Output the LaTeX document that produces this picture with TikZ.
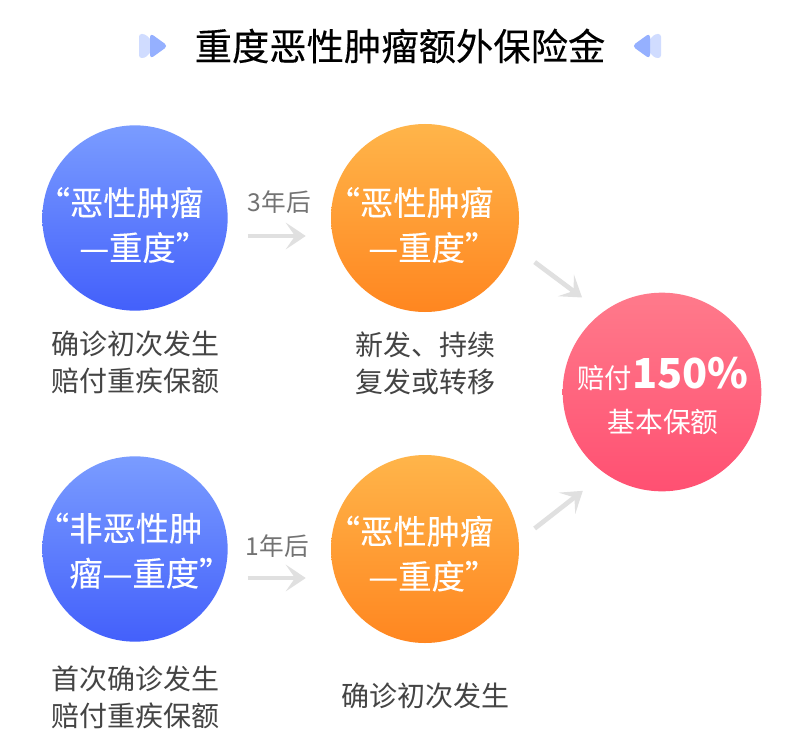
\documentclass[tikz,border=0pt]{standalone}
\usepackage{fontspec}
\setmainfont{Noto Sans CJK SC}
\usetikzlibrary{positioning,arrows.meta,shapes.geometric}
\definecolor{blueTop}{HTML}{7A9CFF}
\definecolor{blueBot}{HTML}{4360FB}
\definecolor{orangeTop}{HTML}{FFB54A}
\definecolor{orangeBot}{HTML}{FF8620}
\definecolor{pinkTop}{HTML}{FF7A8B}
\definecolor{pinkBot}{HTML}{FF5072}
\definecolor{flowGray}{HTML}{E0E0E0}
\definecolor{capGray}{HTML}{444444}
\tikzstyle{ball}=[circle,inner sep=0pt]
\tikzstyle{balltext}=[inner sep=0pt,text=white,align=center,font=\fontsize{25}{33.75}\selectfont\addfontfeature{FakeBold=.15}]
\tikzstyle{blueball}=[ball,minimum size=139pt,top color=blueTop,bottom color=blueBot]
\tikzstyle{orangeball}=[ball,minimum size=141pt,top color=orangeTop,bottom color=orangeBot]
\tikzstyle{pinkball}=[ball,minimum size=149pt,top color=pinkTop,bottom color=pinkBot]
\tikzstyle{caption}=[align=center,text=capGray,inner sep=0pt,font=\fontsize{21}{27.75}\selectfont]
\tikzstyle{flow}=[line width=3.5pt,flowGray,-{Stealth[length=15pt,width=20pt,inset=7pt]}]
\tikzstyle{yearlabel}=[text=black!55,inner sep=0pt,font=\fontsize{18.5}{22}\selectfont]
\tikzstyle{markback}=[fill=blueTop!35,rounded corners=2pt]
\tikzstyle{markfront}=[fill=blueTop!80,rounded corners=3pt]
\newcommand{\lqm}{\hspace*{-.65em}“}
\newcommand{\rqm}{”\hspace*{-.65em}}
\newcommand{\newBall}[5]{\node[#2](#1) at (#3) {}; \node[balltext,yshift=#5](#1text) at (#1) {#4};}
\newcommand{\newFlow}[5]{\draw[flow,shorten <=#3,shorten >=#4] (#1) -- (#2) #5;}
\begin{document}
\begin{tikzpicture}[x=.75pt,y=-.75pt,>=latex]
      \useasboundingbox[fill=white] (0,0) rectangle (798,745);
      \node[inner sep=0pt,font=\fontsize{28}{32}\selectfont\addfontfeature{FakeBold=.25}] (title) at (400,46) {重度恶性肿瘤额外保险金};
      % title marks
      \begin{scope}[shift={(139,46)}]
        \path[markback] (0,-12) -- (6,-12) -- (18,0) -- (6,12) -- (0,12) -- cycle;
        \path[markfront] (11,-13) -- (29,0) -- (11,13) -- cycle;
      \end{scope}
      \begin{scope}[shift={(661,46)}]
        \path[markback] (0,-12) -- (-6,-12) -- (-18,0) -- (-6,12) -- (0,12) -- cycle;
        \path[markfront] (-11,-13) -- (-29,0) -- (-11,13) -- cycle;
      \end{scope}
      \newBall{blue1}{blueball}{135,218}{\lqm 恶性肿瘤\hspace*{.25em}\\—重度\rqm\hspace*{.1em}}{-5.25pt}
      \newBall{orange1}{orangeball}{425,218}{\lqm 恶性肿瘤\hspace*{.25em}\\—重度\rqm\hspace*{.15em}}{-5.25pt}
      \newBall{blue2}{blueball}{135,549}{\lqm 非恶性肿\hspace*{.3em}\\\hspace*{.3em}瘤—重度\rqm}{-1.25pt}
      \newBall{orange2}{orangeball}{425,549}{\lqm 恶性肿瘤\hspace*{.25em}\\—重度\rqm\hspace*{.15em}}{-3.5pt}
      \node[pinkball] (pink) at (662,392) {};
      \node[text=white,inner sep=0pt,font=\fontsize{20.5}{24}\selectfont,anchor=base] (payline) at (663,388) {赔付{\fontsize{31}{34}\selectfont\bfseries 150\%}};
      \node[text=white,inner sep=0pt,font=\fontsize{20.8}{24}\selectfont,below=14pt of payline] (baseline) {基本保额};
      \node[caption,below=14.7pt of blue1] (cap1) {确诊初次发生\\赔付重疾保额};
      \node[caption,below=14.7pt of orange1] (cap2) {新发、持续\\复发或转移};
      \node[caption,below=18pt of blue2] (cap3) {首次确诊发生\\赔付重疾保额};
      \node[caption] (cap4) at (425,696) {确诊初次发生};
      \newFlow{[yshift=-13.5pt]blue1.east}{[yshift=-13.5pt]orange1.west}{15pt}{18.75pt}{node[yearlabel,midway,above=15pt] (year1) {3年后}}
      \newFlow{[yshift=-21.75pt]blue2.east}{[yshift=-21.75pt]orange2.west}{15pt}{18.75pt}{node[yearlabel,midway,above=13.5pt,xshift=-1.5pt] (year2) {1年后}}
      \newFlow{orange1.-18}{pink.127}{18.75pt}{18.75pt}{}
      \newFlow{orange2.5}{pink.-125}{15pt}{21pt}{}
    \end{tikzpicture}
\end{document}
